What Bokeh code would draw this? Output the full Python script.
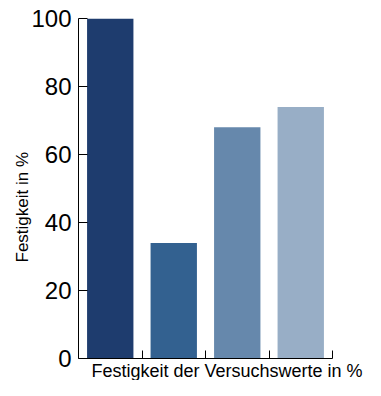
from bokeh.plotting import figure
from bokeh.models import Range1d, FixedTicker, Title
from bokeh.embed import file_html
from bokeh.resources import INLINE

# Data
categories = ["1", "2", "3", "4"]
values = [100, 34, 68, 74]
bar_colors = ["#1e3c6e", "#336190", "#6688ac", "#98aec6"]
y_ticks = [0, 20, 40, 60, 80, 100]
x_label = "Festigkeit der Versuchswerte in %"
y_label = "Festigkeit in %"

FONT = "Liberation Sans"

p = figure(width=365, height=380, output_backend="svg", toolbar_location=None,
           x_range=Range1d(0, len(categories)), y_range=Range1d(0, 100),
           min_border_left=78, min_border_top=18, min_border_right=33, min_border_bottom=0)

xs = [i + 0.5 for i in range(len(categories))]
p.vbar(x=xs, top=values, bottom=0, width=0.73, color=bar_colors, line_color=None)

p.xgrid.visible = False
p.ygrid.visible = False
p.outline_line_color = None
p.background_fill_color = "white"
p.border_fill_color = "white"

# y axis
p.yaxis.ticker = FixedTicker(ticks=y_ticks)
p.yaxis.major_tick_in = 9
p.yaxis.major_tick_out = 0
p.yaxis.minor_tick_line_color = None
p.yaxis.axis_line_color = "black"
p.yaxis.major_tick_line_color = "black"
p.yaxis.major_label_text_font = FONT
p.yaxis.major_label_text_font_size = "24px"
p.yaxis.major_label_text_color = "black"
p.yaxis.major_label_standoff = 7

# x axis
p.xaxis.ticker = FixedTicker(ticks=list(range(1, len(categories) + 1)))
p.xaxis.major_tick_in = 8
p.xaxis.major_tick_out = 0
p.xaxis.minor_tick_line_color = None
p.xaxis.axis_line_color = "black"
p.xaxis.major_tick_line_color = "black"
p.xaxis.major_label_text_font_size = "0px"
p.xaxis.major_label_standoff = 0

# axis labels as titles
p.add_layout(Title(text=x_label, align="left", offset=13, text_font=FONT,
                   text_font_size="18px", text_font_style="normal",
                   text_line_height=1.0,
                   text_color="black", standoff=0), "below")
p.add_layout(Title(text=y_label, align="left", offset=96, text_font=FONT,
                   text_font_size="17px", text_font_style="normal",
                   text_color="black", standoff=-6), "left")

open("out.html", "w").write(file_html(p, INLINE))
